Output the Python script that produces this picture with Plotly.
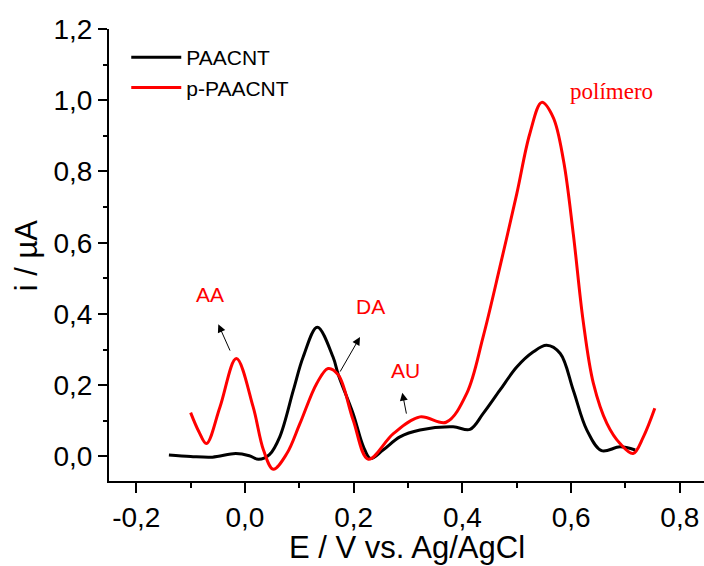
import plotly.graph_objects as go

# Differential pulse voltammograms: potential (V vs. Ag/AgCl) and current (µA)
paacnt_E = [-0.140, -0.100, -0.060, -0.017, 0.008, 0.025, 0.045, 0.064, 0.089, 0.107,
            0.133, 0.162, 0.172, 0.199, 0.218, 0.231, 0.254, 0.285, 0.322, 0.383,
            0.414, 0.438, 0.469, 0.500, 0.530, 0.555, 0.580, 0.604, 0.629, 0.656,
            0.690, 0.718]
paacnt_i = [0.004, 0.000, -0.002, 0.008, 0.002, -0.008, 0.005, 0.055, 0.186, 0.279,
            0.363, 0.279, 0.228, 0.120, 0.027, -0.006, 0.018, 0.055, 0.074, 0.083,
            0.076, 0.120, 0.186, 0.251, 0.293, 0.312, 0.289, 0.186, 0.074, 0.016,
            0.027, 0.018]

ppaacnt_E = [-0.100, -0.085, -0.071, -0.046, -0.016, 0.015, 0.034, 0.052, 0.077, 0.101,
             0.132, 0.153, 0.172, 0.199, 0.227, 0.273, 0.322, 0.370, 0.408, 0.438,
             0.469, 0.500, 0.524, 0.546, 0.567, 0.586, 0.604, 0.622, 0.641, 0.666,
             0.690, 0.714, 0.733, 0.754]
ppaacnt_i = [0.123, 0.070, 0.036, 0.139, 0.275, 0.139, 0.018, -0.036, 0.008, 0.092,
             0.205, 0.247, 0.228, 0.102, -0.008, 0.064, 0.111, 0.096, 0.177, 0.335,
             0.532, 0.737, 0.906, 0.994, 0.952, 0.831, 0.625, 0.382, 0.205, 0.092,
             0.036, 0.008, 0.055, 0.135]

x_tickvals = [-0.2, 0.0, 0.2, 0.4, 0.6, 0.8]
x_ticktext = ["-0,2", "0,0", "0,2", "0,4", "0,6", "0,8"]
y_tickvals = [0.0, 0.2, 0.4, 0.6, 0.8, 1.0, 1.2]
y_ticktext = ["0,0", "0,2", "0,4", "0,6", "0,8", "1,0", "1,2"]

# Peak labels and the arrows pointing at them: (text, x, y, head_x, head_y, tail_x, tail_y)
peak_labels = [
    ("AA", -0.0635, 0.456, -0.0491, 0.371, -0.0263, 0.293),
    ("DA", 0.2318, 0.420, 0.2116, 0.335, 0.1735, 0.234),
    ("AU", 0.2944, 0.2406, 0.2894, 0.179, 0.2975, 0.116),
]

FONT = "Arial, Liberation Sans, sans-serif"

fig = go.Figure()
fig.add_trace(go.Scatter(x=paacnt_E, y=paacnt_i, mode="lines", name="PAACNT",
                         line=dict(color="black", width=3, shape="spline", smoothing=1.0)))
fig.add_trace(go.Scatter(x=ppaacnt_E, y=ppaacnt_i, mode="lines", name="p-PAACNT",
                         line=dict(color="#ff0000", width=3, shape="spline", smoothing=1.0)))

annotations = []
for text, tx, ty, hx, hy, sx, sy in peak_labels:
    annotations.append(dict(x=tx, y=ty, xref="x", yref="y", text=text, showarrow=False,
                            font=dict(family=FONT, size=21, color="#ff0000"),
                            xanchor="center", yanchor="middle"))
    annotations.append(dict(x=hx, y=hy, ax=sx, ay=sy, xref="x", yref="y", axref="x", ayref="y",
                            text="", showarrow=True, arrowhead=2, arrowsize=1.6, arrowwidth=1,
                            arrowcolor="black", standoff=0, startstandoff=0))
annotations.append(dict(x=0.6734, y=1.0243, xref="x", yref="y", text="polímero", showarrow=False,
                        font=dict(family="Times New Roman, Liberation Serif, serif", size=23,
                                  color="#ff0000"),
                        xanchor="center", yanchor="middle"))
annotations.append(dict(x=0.5, y=-0.147, xref="paper", yref="paper", text="E / V vs. Ag/AgCl",
                        showarrow=False, font=dict(family=FONT, size=31, color="black"),
                        xanchor="center", yanchor="middle"))
annotations.append(dict(x=-0.139, y=0.5, xref="paper", yref="paper", text="i / µA", textangle=-90,
                        showarrow=False, font=dict(family=FONT, size=31, color="black"),
                        xanchor="center", yanchor="middle"))

x_range = [-0.2502, 0.8445]
y_range = [-0.069, 1.2]

fig.update_layout(
    width=704, height=566,
    margin=dict(l=109, r=0, t=29, b=85),
    paper_bgcolor="white", plot_bgcolor="white",
    font=dict(family=FONT, color="black"),
    showlegend=True,
    legend=dict(x=0.029, y=0.982, xanchor="left", yanchor="top", bgcolor="rgba(0,0,0,0)",
                font=dict(family=FONT, size=21, color="black"), itemwidth=50,
                tracegroupgap=0),
    xaxis=dict(range=x_range, showgrid=False, zeroline=False, showline=True, linecolor="black",
               linewidth=2, ticks="outside", ticklen=10, tickwidth=1.5, tickcolor="black",
               tickvals=x_tickvals, ticktext=x_ticktext, tickfont=dict(family=FONT, size=28),
               minor=dict(ticks="outside", ticklen=5, tickwidth=1.5, tickcolor="black",
                          dtick=0.1, tick0=0, showgrid=False)),
    xaxis2=dict(range=x_range, overlaying="x", side="top", anchor="y", showgrid=False,
                zeroline=False, showline=True, linecolor="black", linewidth=2,
                ticks="outside", ticklen=3, tickwidth=1.2, tickcolor="black",
                tick0=0, dtick=0.1, showticklabels=False),
    yaxis=dict(range=y_range, showgrid=False, zeroline=False, showline=True, linecolor="black",
               linewidth=2, ticks="outside", ticklen=9, tickwidth=1.5, tickcolor="black",
               tickvals=y_tickvals, ticktext=y_ticktext, tickfont=dict(family=FONT, size=28),
               minor=dict(ticks="outside", ticklen=4, tickwidth=1.5, tickcolor="black",
                          dtick=0.1, tick0=0, showgrid=False)),
    annotations=annotations,
)

fig.write_html("out.html")
